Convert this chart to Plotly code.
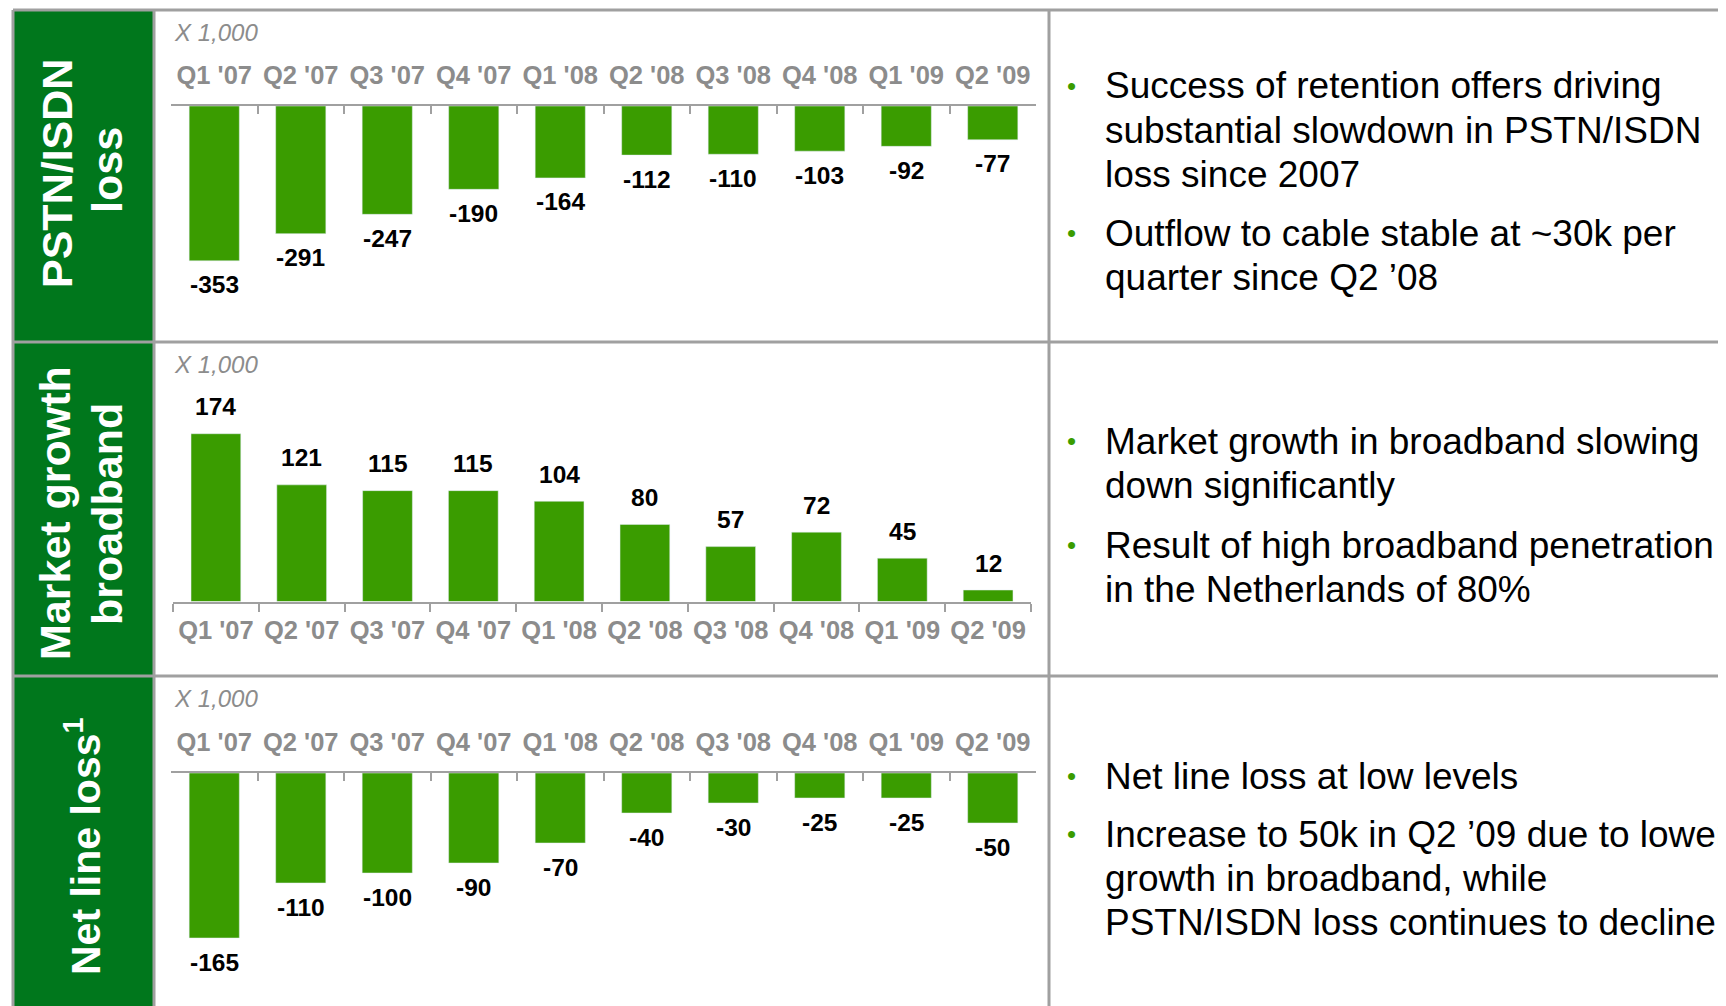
import plotly.graph_objects as go

# ---------------- data ----------------
quarters = ["Q1 '07", "Q2 '07", "Q3 '07", "Q4 '07", "Q1 '08",
            "Q2 '08", "Q3 '08", "Q4 '08", "Q1 '09", "Q2 '09"]
pstn_isdn_loss = [-353, -291, -247, -190, -164, -112, -110, -103, -92, -77]
broadband_growth = [174, 121, 115, 115, 104, 80, 57, 72, 45, 12]
net_line_loss = [-165, -110, -100, -90, -70, -40, -30, -25, -25, -50]

row_titles = [["PSTN/ISDN", "loss"], ["Market growth", "broadband"], ["Net line loss<sup>1</sup>"]]
unit_label = "X 1,000"
bullets = [
    [["Success of retention offers driving", "substantial slowdown in PSTN/ISDN", "loss since 2007"],
     ["Outflow to cable stable at ~30k per", "quarter since Q2 \u201908"]],
    [["Market growth in broadband slowing", "down significantly"],
     ["Result of high broadband penetration", "in the Netherlands of 80%"]],
    [["Net line loss at low levels"],
     ["Increase to 50k in Q2 \u201909 due to lower", "growth in broadband, while",
      "PSTN/ISDN loss continues to decline"]],
]

# ---------------- styling / layout ----------------
PAGE_W, PAGE_H = 1726, 1006
OFF = 8  # default body margin of the html page
W, H = PAGE_W - OFF, PAGE_H - OFF
GREEN_PANEL = "#00771C"
BAR_GREEN = "#3A9C00"
GRID_GRAY = "#A0A0A0"
TICK_GRAY = "#8C8C8C"
FONT = "Liberation Sans, Arial, sans-serif"


def px(x):
    return (x - OFF) / W


def py(y):
    return 1 - (y - OFF) / H


fig = go.Figure()

series = [pstn_isdn_loss, broadband_growth, net_line_loss]
# plot-area geometry per row (page pixels)
rows = [
    dict(x0=171, x1=1036, ytop=106, ybot=340, rng=[-533.5, 0], side="top", ticks="inside",
         label_shift=-24, standoff=10),
    dict(x0=173, x1=1031, ytop=360, ybot=601.6, rng=[0, 250.4], side="bottom", ticks="outside",
         label_shift=27, standoff=5),
    dict(x0=171, x1=1036, ytop=773, ybot=1000, rng=[-227, 0], side="top", ticks="inside",
         label_shift=-24, standoff=10),
]

annotations = []
for i, (vals, r) in enumerate(zip(series, rows)):
    n = "" if i == 0 else str(i + 1)
    fig.add_trace(go.Bar(x=quarters, y=vals, marker_color=BAR_GREEN,
                         xaxis="x" + n, yaxis="y" + n, showlegend=False,
                         hoverinfo="skip"))
    fig.update_layout(**{
        "xaxis" + n: dict(domain=[px(r["x0"]), px(r["x1"])], anchor="y" + n,
                          side=r["side"], type="category",
                          showline=True, linecolor=GRID_GRAY, linewidth=2,
                          ticks=r["ticks"], tickson="boundaries", ticklen=8,
                          tickwidth=2, tickcolor=GRID_GRAY,
                          showgrid=False, zeroline=False, fixedrange=True,
                          ticklabelstandoff=r["standoff"],
                          tickfont=dict(family=FONT, size=25.5, color=TICK_GRAY, weight="bold")),
        "yaxis" + n: dict(domain=[py(r["ybot"]), py(r["ytop"])], anchor="x" + n,
                          range=r["rng"], visible=False, fixedrange=True),
    })
    for q, v in zip(quarters, vals):
        annotations.append(dict(x=q, y=v, xref="x" + n, yref="y" + n,
                                text="<b>%d</b>" % v, showarrow=False,
                                yshift=r["label_shift"], xanchor="center", yanchor="middle",
                                font=dict(family=FONT, size=24.5, color="black")))

# unit labels
for y in [33, 364, 698]:
    annotations.append(dict(x=px(172), y=py(y), xref="paper", yref="paper",
                            text="<i>%s</i>" % unit_label, showarrow=False,
                            xanchor="left", yanchor="middle",
                            font=dict(family=FONT, size=24, color=TICK_GRAY)))

# side titles (rotated)
title_pos = [
    [(57, 174), (107, 170)],
    [(55, 513), (107, 514)],
    [(83, 846)],
]
title_sizes = [43, 43, 41]
for lines, poss, fs in zip(row_titles, title_pos, title_sizes):
    for t, (x, y) in zip(lines, poss):
        annotations.append(dict(x=px(x), y=py(y), xref="paper", yref="paper",
                                text="<b>%s</b>" % t, showarrow=False, textangle=-90,
                                xanchor="center", yanchor="middle",
                                font=dict(family=FONT, size=fs, color="white")))

# bullet text
bullet_y = [
    [[86, 130, 174], [233, 277]],
    [[441, 485], [545, 589]],
    [[776], [834, 878, 922]],
]
for blocks, ys in zip(bullets, bullet_y):
    for lines, yl in zip(blocks, ys):
        annotations.append(dict(x=px(1071), y=py(yl[0]), xref="paper", yref="paper",
                                text="\u2022", showarrow=False, xanchor="center",
                                yanchor="middle",
                                font=dict(family=FONT, size=26, color=BAR_GREEN)))
        for t, y in zip(lines, yl):
            annotations.append(dict(x=px(1103), y=py(y), xref="paper", yref="paper",
                                    text=t, showarrow=False, xanchor="left",
                                    yanchor="middle",
                                    font=dict(family=FONT, size=37, color="black")))

# frame shapes
shapes = []
for (y0, y1) in [(10, 342), (342, 676), (676, PAGE_H)]:
    shapes.append(dict(type="rect", xref="paper", yref="paper",
                       x0=px(13), x1=px(154), y0=py(y1), y1=py(y0),
                       fillcolor=GREEN_PANEL, line=dict(width=0), layer="below"))
for y in [10, 342, 676]:
    shapes.append(dict(type="line", xref="paper", yref="paper",
                       x0=px(13), x1=1, y0=py(y), y1=py(y),
                       line=dict(color=GRID_GRAY, width=3)))
for x in [13, 154, 1049]:
    shapes.append(dict(type="line", xref="paper", yref="paper",
                       x0=px(x), x1=px(x), y0=py(10), y1=0,
                       line=dict(color=GRID_GRAY, width=3)))

fig.update_layout(width=W, height=H, margin=dict(l=0, r=0, t=0, b=0),
                  paper_bgcolor="white", plot_bgcolor="rgba(0,0,0,0)",
                  bargap=0.42, annotations=annotations, shapes=shapes,
                  font=dict(family=FONT))

fig.write_html("out.html")
